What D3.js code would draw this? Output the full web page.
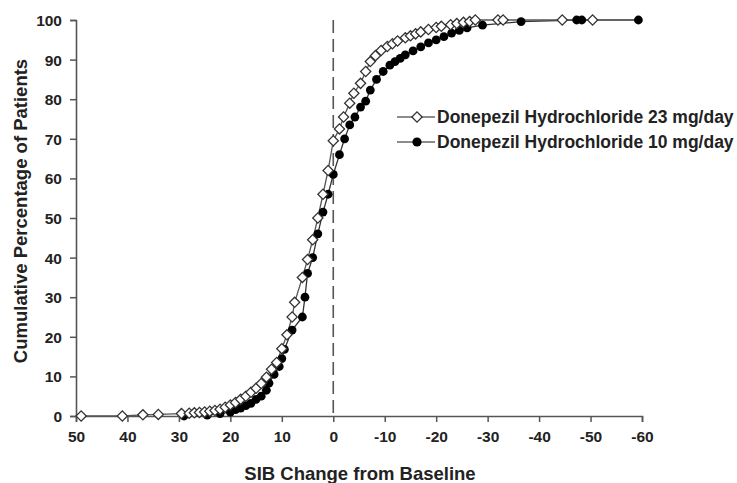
<!DOCTYPE html>
<html><head><meta charset="utf-8">
<script src="https://cdn.jsdelivr.net/npm/d3@7"></script>
<style>
body{margin:0;background:#fff;}
text{font-family:"Liberation Sans",Arial,sans-serif;}
</style></head><body>
<svg id="c" width="737" height="483"></svg>
<script>
// Data (SIB change from baseline, cumulative % of patients)
const seriesNames = ["Donepezil Hydrochloride 23 mg/day", "Donepezil Hydrochloride 10 mg/day"];
const xTicks = [50, 40, 30, 20, 10, 0, -10, -20, -30, -40, -50, -60];
const yTicks = [0, 10, 20, 30, 40, 50, 60, 70, 80, 90, 100];
const dose23X = [49, 41, 37, 34, 29.5, 28, 27, 26, 25, 24, 23, 22, 21, 20, 19, 18, 17, 16, 15, 14, 13, 12, 11, 10, 9, 8, 7.5, 6, 5, 4, 3, 2, 1, 0, -1.2, -2, -3.2, -4, -5.3, -6.3, -7.2, -8.2, -9.3, -10.5, -11.5, -12.5, -14, -15, -16, -17, -18.5, -20, -21, -22.8, -24, -25.3, -26.5, -27.6, -32, -33, -44.5, -50.4];
const dose23Y = [0, 0, 0.3, 0.4, 0.6, 0.7, 0.8, 0.9, 1.0, 1.2, 1.4, 1.7, 2.2, 2.8, 3.4, 4.2, 5.0, 6.0, 7.0, 8.2, 9.8, 11.8, 13.5, 17, 20.5, 25, 28.7, 35, 39.5, 44.5, 50, 56, 62, 69.5, 72.5, 75.5, 79, 81.5, 84, 87, 89.5, 91, 92.3, 93.3, 94, 94.7, 95.5, 96, 96.5, 97, 97.6, 98.1, 98.4, 98.8, 99.1, 99.4, 99.6, 100, 100, 100, 100, 100];
const dose10X = [29, 24.5, 22, 20, 19, 18, 17, 16, 15, 14, 13, 12.5, 11.5, 10.5, 10, 9.5, 8, 6, 5.5, 5, 4, 3, 2, 1, 0, -1.2, -2.2, -3.2, -4.2, -5.3, -6.3, -7.2, -8.4, -9.7, -11, -12, -13, -14, -15.5, -17, -18.5, -20, -21.5, -23, -24.5, -26, -29, -36.5, -47.3, -48.3, -59.3];
const dose10Y = [0, 0.2, 0.6, 1, 1.6, 2, 2.6, 3.2, 4.2, 5, 6.5, 8.3, 10.5, 12.5, 14.5, 16.8, 21.7, 25, 30, 36, 40, 46, 51.5, 56, 61, 66, 70, 73.5, 75.5, 78, 79.5, 82.3, 85, 87, 88.6, 89.5, 90.3, 91.2, 92.2, 93.2, 94.2, 95, 95.8, 96.7, 97.4, 98, 98.7, 99.6, 100, 100, 100];

const svg = d3.select("#c");
const x = d3.scaleLinear().domain([50, -60]).range([76, 642]);
const y = d3.scaleLinear().domain([0, 100]).range([416, 20]);
const axisColor = "#555";

// Axes
const gx = svg.append("g").attr("transform", `translate(0,${y(0)})`)
  .call(d3.axisBottom(x).tickValues(xTicks).tickFormat(d => String(d)).tickSize(6).tickSizeOuter(6).tickPadding(9));
const gy = svg.append("g").attr("transform", `translate(${x(50)},0)`)
  .call(d3.axisLeft(y).tickValues(yTicks).tickFormat(d => String(d)).tickSize(6).tickSizeOuter(6).tickPadding(8));
[gx, gy].forEach(g => {
  g.select(".domain").attr("stroke", axisColor).attr("stroke-width", 1.6);
  g.selectAll(".tick line").attr("stroke", axisColor).attr("stroke-width", 1.5);
  g.selectAll(".tick text").attr("fill", "#222").style("font-size", "15.5px").style("font-weight", "bold");
});
gy.selectAll(".tick text").attr("dy", "0.35em");

// Zero reference dashed line
svg.append("line").attr("x1", x(0)).attr("x2", x(0)).attr("y1", y(100)).attr("y2", y(0))
  .attr("stroke", "#555").attr("stroke-width", 1.6).attr("stroke-dasharray", "13,6");

// Axis titles
svg.append("text").attr("x", 360).attr("y", 480).attr("text-anchor", "middle")
  .style("font-size", "18.5px").style("font-weight", "bold").attr("fill", "#222")
  .text("SIB Change from Baseline");
svg.append("text").attr("transform", `translate(27,211) rotate(-90)`).attr("text-anchor", "middle")
  .style("font-size", "18.5px").style("font-weight", "bold").attr("fill", "#222")
  .text("Cumulative Percentage of Patients");

const line = d3.line().x(d => x(d[0])).y(d => y(d[1]));
const d23 = dose23X.map((v, i) => [v, dose23Y[i]]);
const d10 = dose10X.map((v, i) => [v, dose10Y[i]]);

function drawDiamond(sel) {
  sel.append("path").attr("d", d3.symbol().type(d3.symbolSquare).size(52))
    .attr("transform", "rotate(45)")
    .attr("fill", "#fff").attr("stroke", "#333").attr("stroke-width", 1.3);
}

// 10 mg series line (drawn first)
svg.append("path").datum(d10).attr("d", line).attr("fill", "none").attr("stroke", "#333").attr("stroke-width", 1.3);
// 23 mg series line
svg.append("path").datum(d23).attr("d", line).attr("fill", "none").attr("stroke", "#555").attr("stroke-width", 1.3);

svg.append("g").selectAll("circle").data(d10).join("circle")
  .attr("cx", d => x(d[0])).attr("cy", d => y(d[1])).attr("r", 4.4).attr("fill", "#000");

svg.append("g").selectAll("g").data(d23).join("g")
  .attr("transform", d => `translate(${x(d[0])},${y(d[1])})`)
  .call(drawDiamond);

// Legend
const lg = svg.append("g");
const ly = [117, 142];
seriesNames.forEach((name, i) => {
  lg.append("line").attr("x1", 397).attr("x2", 435).attr("y1", ly[i]).attr("y2", ly[i])
    .attr("stroke", "#666").attr("stroke-width", 1.5);
  if (i === 0) {
    lg.append("g").attr("transform", `translate(417,${ly[i]})`).call(drawDiamond);
  } else {
    lg.append("circle").attr("cx", 417).attr("cy", ly[i]).attr("r", 4.6).attr("fill", "#000");
  }
  lg.append("text").attr("x", 437).attr("y", ly[i]).attr("dy", "0.35em")
    .style("font-size", "17.5px").style("font-weight", "bold").attr("fill", "#222").text(name);
});
</script>
</body></html>
